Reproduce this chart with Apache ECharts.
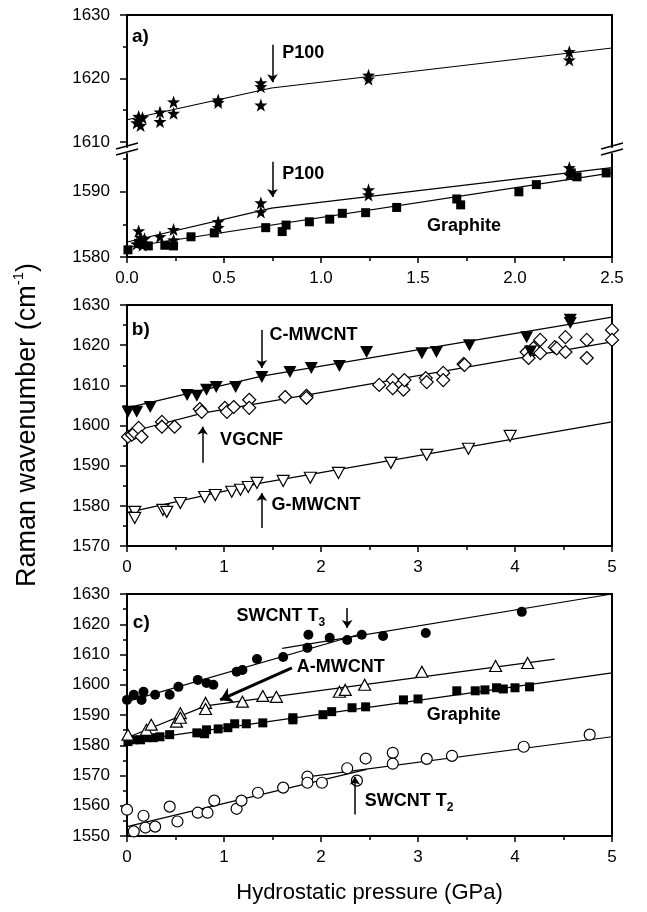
<!DOCTYPE html>
<html><head><meta charset="utf-8">
<script src="https://cdn.jsdelivr.net/npm/echarts@6/dist/echarts.min.js"></script>
<style>html,body{margin:0;padding:0;background:#fff}#c{width:647px;height:912px}</style>
</head><body><div id="c"></div>
<script>
// ---------- DATA (pressure GPa, Raman wavenumber cm-1) ----------
// Panel a, upper section (P100 upper band)
const aP100Upper = [[0.05,1613.0],[0.06,1614.0],[0.06,1613.4],[0.07,1612.6],[0.08,1613.8],[0.17,1614.7],[0.17,1613.2],[0.24,1616.3],[0.24,1614.5],[0.47,1616.6],[0.47,1616.2],[0.69,1619.3],[0.69,1618.7],[0.69,1615.8],[1.245,1620.5],[1.245,1619.9],[2.28,1624.2],[2.28,1622.9]];
const aP100UpperFit = [[0,1613.5],[0.745,1618.5],[2.5,1624.8]];
// Panel a, lower section
const aP100Lower = [[0.05,1582.0],[0.06,1584.0],[0.07,1583.0],[0.07,1582.3],[0.08,1581.8],[0.09,1582.8],[0.17,1583.1],[0.24,1584.2],[0.24,1582.6],[0.47,1585.4],[0.47,1584.5],[0.69,1588.3],[0.69,1586.9],[1.245,1590.3],[1.245,1589.5],[2.28,1593.7],[2.28,1592.6]];
const aP100LowerFit = [[0,1582.3],[0.745,1587.5],[2.5,1593.7]];
const aGraphite = [[0.005,1581.1],[0.06,1582.1],[0.11,1581.7],[0.195,1581.8],[0.24,1581.7],[0.33,1583.1],[0.45,1583.7],[0.715,1584.5],[0.80,1583.9],[0.82,1584.9],[0.94,1585.4],[1.045,1585.8],[1.11,1586.7],[1.23,1586.8],[1.39,1587.6],[1.70,1588.9],[1.72,1588.0],[2.02,1590.0],[2.11,1591.1],[2.29,1592.9],[2.32,1592.3],[2.47,1592.9]];
const aGraphiteFit = [[0,1581.5],[2.5,1592.9]];
// Panel b
const bCMWCNT = [[0.01,1603.4],[0.10,1603.4],[0.24,1604.6],[0.62,1607.6],[0.72,1607.4],[0.82,1608.9],[0.92,1609.6],[1.12,1609.6],[1.39,1612.1],[1.68,1613.3],[1.90,1614.3],[2.19,1614.8],[2.47,1618.3],[3.04,1618.0],[3.19,1618.3],[3.53,1620.0],[4.12,1622.0],[4.16,1618.4],[4.57,1625.5],[4.57,1626.3]];
const bCMWCNTFit = [[0,1604.4],[1.39,1612.3],[5,1627.0]];
const bVGCNF = [[0.01,1597.2],[0.05,1597.7],[0.08,1598.2],[0.12,1599.4],[0.15,1597.2],[0.36,1600.9],[0.36,1599.7],[0.49,1599.7],[0.75,1604.1],[0.77,1603.4],[1.01,1604.4],[1.03,1603.4],[1.10,1604.6],[1.26,1606.4],[1.26,1604.4],[1.63,1607.1],[1.85,1607.4],[1.85,1606.9],[2.60,1610.1],[2.74,1611.3],[2.74,1609.3],[2.83,1610.3],[2.85,1608.9],[2.86,1611.3],[3.08,1611.8],[3.09,1610.8],[3.26,1613.1],[3.26,1611.3],[3.47,1615.3],[3.48,1615.1],[4.12,1618.3],[4.14,1616.8],[4.19,1619.3],[4.26,1621.3],[4.26,1618.0],[4.41,1619.5],[4.43,1619.2],[4.52,1622.0],[4.52,1618.3],[4.74,1621.3],[4.74,1616.8],[5.0,1623.8],[5.0,1621.3]];
const bVGCNFFit = [[0,1598.2],[0.78,1603.1],[5,1620.8]];
const bGMWCNT = [[0.08,1578.5],[0.08,1577.0],[0.37,1579.0],[0.41,1578.5],[0.55,1580.7],[0.80,1582.2],[0.91,1582.7],[1.08,1583.5],[1.17,1584.0],[1.25,1584.7],[1.34,1585.7],[1.61,1586.2],[1.89,1587.0],[2.18,1588.2],[2.72,1590.7],[3.09,1592.7],[3.52,1594.2],[3.95,1597.4]];
const bGMWCNTFit = [[0,1578.3],[1.39,1585.7],[5,1600.9]];
// Panel c
const cSWCNTT3 = [[0.0,1595.0],[0.07,1596.7],[0.15,1595.0],[0.17,1597.7],[0.29,1596.7],[0.44,1596.7],[0.53,1599.3],[0.73,1601.6],[0.82,1600.6],[0.89,1600.0],[1.13,1604.3],[1.19,1604.9],[1.34,1608.5],[1.61,1609.2],[1.86,1612.2],[1.87,1616.5],[2.09,1615.5],[2.27,1614.8],[2.42,1616.5],[2.64,1616.1],[3.08,1617.1],[4.07,1624.1]];
const cSWCNTT3Fit1 = [[0,1594.4],[2.45,1617.2]];
const cSWCNTT3Fit2 = [[1.6,1612.0],[5,1630]];
const cAMWCNT = [[0.01,1583.5],[0.20,1585.1],[0.25,1586.8],[0.51,1587.8],[0.55,1590.6],[0.55,1589.1],[0.81,1594.0],[0.81,1592.0],[1.19,1594.4],[1.40,1596.3],[1.54,1596.0],[2.19,1597.7],[2.25,1598.3],[2.45,1600.0],[3.04,1604.3],[3.80,1606.2],[4.13,1607.2]];
const cAMWCNTFit = [[0,1582.5],[0.81,1593.0],[4.41,1608.5]];
const cGraphite = [[0.01,1581.2],[0.07,1581.8],[0.14,1581.8],[0.20,1582.5],[0.27,1582.5],[0.34,1582.8],[0.44,1583.5],[0.72,1584.1],[0.80,1583.8],[0.82,1585.1],[0.94,1585.4],[1.04,1585.8],[1.11,1587.1],[1.23,1587.1],[1.40,1587.4],[1.71,1589.1],[1.71,1588.4],[2.02,1590.1],[2.11,1591.1],[2.32,1592.4],[2.46,1592.7],[2.85,1595.0],[3.00,1595.3],[3.40,1598.0],[3.59,1598.0],[3.69,1598.3],[3.81,1599.0],[3.88,1598.6],[4.00,1599.0],[4.15,1599.3]];
const cGraphiteFit = [[0,1581.2],[5,1603.9]];
const cSWCNTT2 = [[0.0,1558.7],[0.07,1551.5],[0.17,1556.7],[0.19,1552.8],[0.29,1553.1],[0.44,1559.7],[0.52,1554.8],[0.73,1557.7],[0.83,1557.7],[0.90,1561.7],[1.13,1559.0],[1.18,1561.7],[1.35,1564.3],[1.61,1566.0],[1.86,1569.6],[1.86,1567.6],[2.01,1567.6],[2.27,1572.4],[2.37,1568.3],[2.46,1575.6],[2.74,1577.5],[2.74,1573.9],[3.09,1575.5],[3.35,1576.5],[4.09,1579.5],[4.77,1583.5]];
const cSWCNTT2Fit1 = [[0,1553.1],[2.47,1572.0]];
const cSWCNTT2Fit2 = [[1.8,1569.3],[5,1582.8]];
// Tick labels
const xTickLabelsA = ['0.0','0.5','1.0','1.5','2.0','2.5'];
const xTickLabelsBC = ['0','1','2','3','4','5'];
const yMajorAUpper = [1610,1620,1630];
const yMinorAUpper = [1615,1625];
const yMajorALower = [1580,1590];
const yMinorALower = [1585,1595];

// ---------- CHART ----------
const FONT = '"Liberation Sans", Arial, Helvetica, sans-serif';
const K = '#000';
const chart = echarts.init(document.getElementById('c'), null, {renderer:'canvas'});
const axLine = {show:true, onZero:false, lineStyle:{color:K, width:2}};
const lbl = {color:K, fontSize:17, fontFamily:FONT};
const noSplit = {show:false};

function xAx(gi, max, interval, labels, extra) {
  return Object.assign({
    gridIndex:gi, type:'value', min:0, max:max, interval:interval,
    axisLine:axLine, splitLine:noSplit,
    axisTick:{show:true, length:6, lineStyle:{color:K, width:1.5}},
    minorTick:{show:true, splitNumber:2, length:4, lineStyle:{color:K, width:1.5}},
    axisLabel:Object.assign({margin:13, formatter:(v,i)=>labels[i]}, lbl)
  }, extra||{});
}
function yAx(gi, min, max, extra) {
  return Object.assign({
    gridIndex:gi, type:'value', min:min, max:max, position:'left',
    axisLine:axLine, splitLine:noSplit,
    axisTick:{show:true, length:7, lineStyle:{color:K, width:1.5}},
    axisLabel:Object.assign({margin:17, formatter:v=>String(v)}, lbl)
  }, extra||{});
}
function scat(data, xi, yi, symbol, size, filled, rot) {
  return {type:'scatter', xAxisIndex:xi, yAxisIndex:yi, data:data, symbol:symbol, symbolSize:size,
    symbolRotate:rot||0, silent:true, z:4,
    itemStyle: filled ? {color:K, opacity:1} : {color:'#fff', borderColor:K, borderWidth:1.2, opacity:1}};
}
function fit(data, xi, yi, extra) {
  return Object.assign({type:'line', xAxisIndex:xi, yAxisIndex:yi, data:data, symbol:'none', showSymbol:false,
    silent:true, z:2, lineStyle:{color:K, width:1.2}}, extra||{});
}
function arrows(list) {
  return {silent:true, symbol:['none','arrow'], symbolSize:8, label:{show:false},
    lineStyle:{color:K, width:1.5, type:'solid'}, animation:false,
    data:list.map(a => {
      const s = {coord:a[0]};
      if (a[2]) { s.lineStyle = {width:a[2], color:K, type:'solid'}; }
      const e = {coord:a[1]};
      if (a[3]) { s.symbolSize = a[3]; e.symbolSize = a[3]; }
      return [s, e];
    })};
}
const rich = {t:{fontSize:18, fontWeight:'bold', fontFamily:FONT, color:K, lineHeight:24},
              s:{fontSize:12, fontWeight:'bold', fontFamily:FONT, color:K, verticalAlign:'bottom', lineHeight:24}};
function texts(list) {
  return {silent:true, symbol:'circle', symbolSize:0, animation:false,
    label:{show:true, position:'right', distance:0, color:K, fontFamily:FONT, fontWeight:'bold', fontSize:18, rich:rich},
    data:list.map(t => ({name:t[0], coord:t[1], label:{formatter:t[2]||t[0], fontSize:t[3]||18}}))};
}
const star = 'path://M50,0 L62,34 L98,35 L69,57 L80,92 L50,71 L20,92 L31,57 L2,35 L38,34 Z';

const option = {
  animation:false,
  backgroundColor:'#fff',
  grid:[
    {left:127, width:485, top:15, height:132},
    {left:127, width:485, top:154, height:103},
    {left:127, width:485, top:305, height:241, show:true, borderColor:K, borderWidth:2},
    {left:127, width:485, top:594, height:242, show:true, borderColor:K, borderWidth:2}
  ],
  xAxis:[
    {gridIndex:0, type:'value', min:0, max:2.5, position:'top', axisLine:axLine, axisTick:{show:false}, axisLabel:{show:false}, splitLine:noSplit},
    xAx(1, 2.5, 0.5, xTickLabelsA),
    xAx(2, 5, 1, xTickLabelsBC),
    xAx(3, 5, 1, xTickLabelsBC, {name:'Hydrostatic pressure (GPa)', nameLocation:'middle', nameGap:46,
      nameTextStyle:{color:K, fontSize:22, fontFamily:FONT}})
  ],
  yAxis:[
    yAx(0, 1609.2, 1630, {axisTick:{show:true, length:7, customValues:yMajorAUpper, lineStyle:{color:K,width:1.5}},
      axisLabel:Object.assign({margin:17, customValues:yMajorAUpper, formatter:v=>(v%10===0?String(v):'')}, lbl)}),
    yAx(0, 1609.2, 1630, {axisLine:{show:false}, axisTick:{show:true, length:4, customValues:yMinorAUpper, lineStyle:{color:K,width:1.5}}, axisLabel:{show:false}}),
    yAx(0, 1609.2, 1630, {position:'right', axisTick:{show:false}, axisLabel:{show:false}}),
    yAx(1, 1580, 1595.8, {axisTick:{show:true, length:7, customValues:yMajorALower, lineStyle:{color:K,width:1.5}},
      axisLabel:Object.assign({margin:17, customValues:yMajorALower, formatter:v=>(v%10===0?String(v):'')}, lbl)}),
    yAx(1, 1580, 1595.8, {axisLine:{show:false}, axisTick:{show:true, length:4, customValues:yMinorALower, lineStyle:{color:K,width:1.5}}, axisLabel:{show:false}}),
    yAx(1, 1580, 1595.8, {position:'right', axisTick:{show:false}, axisLabel:{show:false}}),
    yAx(2, 1570, 1630, {interval:10, minorTick:{show:true, splitNumber:2, length:4, lineStyle:{color:K, width:1.5}}}),
    yAx(3, 1550, 1630, {interval:10, minorTick:{show:true, splitNumber:2, length:4, lineStyle:{color:K, width:1.5}}})
  ],
  series:[
    // panel a upper
    fit(aP100UpperFit, 0, 0, {
      markLine:arrows([[[0.75,1625.3],[0.75,1619.4]]]),
      markPoint:texts([['a)',[0.026,1626.5],null,19],['P100',[0.80,1624.0]]])}),
    scat(aP100Upper, 0, 0, star, 13, true),
    // panel a lower
    fit(aP100LowerFit, 1, 3, {
      markLine:arrows([[[0.75,1594.6],[0.75,1589.2]]]),
      markPoint:texts([['P100',[0.80,1592.8]],['Graphite',[1.546,1584.8]]])}),
    fit(aGraphiteFit, 1, 3),
    scat(aGraphite, 1, 3, 'rect', 9, true),
    scat(aP100Lower, 1, 3, star, 13, true),
    // panel b
    fit(bCMWCNTFit, 2, 6, {
      markLine:arrows([[[1.39,1623.8],[1.39,1614.3]],[[0.78,1590.7],[0.78,1599.7]],[[1.39,1574.5],[1.39,1583.2]]]),
      markPoint:texts([['b)',[0.05,1623.8],null,19],['C-MWCNT',[1.47,1622.5]],['VGCNF',[0.96,1596.4]],['G-MWCNT',[1.49,1580.2]]])}),
    fit(bVGCNFFit, 2, 6),
    fit(bGMWCNTFit, 2, 6),
    scat(bVGCNF, 2, 6, 'diamond', 13, false),
    scat(bGMWCNT, 2, 6, 'triangle', [12,11], false, 180),
    scat(bCMWCNT, 2, 6, 'triangle', [13,12], true, 180),
    // panel c
    fit(cSWCNTT3Fit1, 3, 7, {
      markLine:arrows([[[2.27,1625.4],[2.27,1618.8]],[[2.35,1557.1],[2.35,1569.6]],[[1.70,1605.6],[0.96,1595.0],3,12]]),
      markPoint:texts([['c)',[0.06,1620.4],null,19],['SWCNT T3',[1.13,1622.6],'{t|SWCNT T}{s|3}'],['A-MWCNT',[1.75,1605.9]],['Graphite',[3.09,1590.1]],['SWCNT T2',[2.45,1561.5],'{t|SWCNT T}{s|2}']])}),
    fit(cSWCNTT3Fit2, 3, 7),
    fit(cAMWCNTFit, 3, 7),
    fit(cGraphiteFit, 3, 7),
    fit(cSWCNTT2Fit1, 3, 7),
    fit(cSWCNTT2Fit2, 3, 7),
    scat(cGraphite, 3, 7, 'rect', 9, true),
    scat(cAMWCNT, 3, 7, 'triangle', [12,11], false),
    scat(cSWCNTT2, 3, 7, 'circle', 11, false),
    scat(cSWCNTT3, 3, 7, 'circle', 10, true)
  ],
  graphic:[
    {type:'text', x:28, y:425, rotation:Math.PI/2, silent:true,
      style:{text:'{a|Raman wavenumber (cm}{s|-1}{a|)}', align:'center', verticalAlign:'middle',
        rich:{a:{fontSize:27, fontFamily:FONT, fill:K, lineHeight:34}, s:{fontSize:15, fontFamily:FONT, fill:K, verticalAlign:'top', lineHeight:34}}}},
    // axis break marks
    {type:'line', silent:true, shape:{x1:116,y1:149,x2:138,y2:143}, style:{stroke:K, lineWidth:1.5}},
    {type:'line', silent:true, shape:{x1:116,y1:155,x2:138,y2:149}, style:{stroke:K, lineWidth:1.5}},
    {type:'line', silent:true, shape:{x1:601,y1:149,x2:623,y2:143}, style:{stroke:K, lineWidth:1.5}},
    {type:'line', silent:true, shape:{x1:601,y1:155,x2:623,y2:149}, style:{stroke:K, lineWidth:1.5}}
  ]
};
chart.setOption(option);
</script>
</body></html>
